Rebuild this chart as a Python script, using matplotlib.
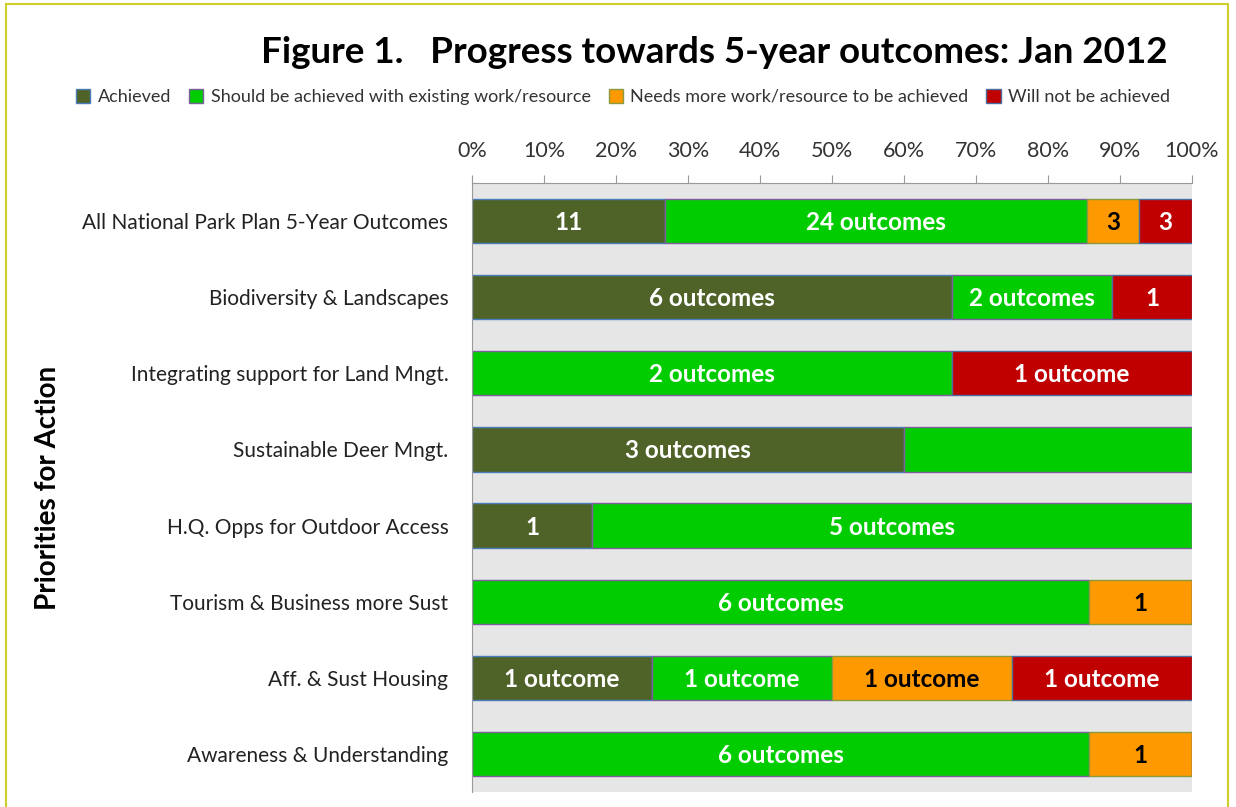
import matplotlib
matplotlib.use("Agg")
import matplotlib.pyplot as plt
from matplotlib.patches import Rectangle
import numpy as np

plt.rcParams["font.family"] = ["Lato", "DejaVu Sans"]

categories = [
    "All National Park Plan 5-Year Outcomes",
    "Biodiversity & Landscapes",
    "Integrating support for Land Mngt.",
    "Sustainable Deer Mngt.",
    "H.Q. Opps for Outdoor Access",
    "Tourism & Business more Sust",
    "Aff. & Sust Housing",
    "Awareness & Understanding",
]
series = [
    "Achieved",
    "Should be achieved with existing work/resource",
    "Needs more work/resource to be achieved",
    "Will not be achieved",
]
achieved = [11, 6, 0, 3, 1, 0, 1, 0]
should = [24, 2, 2, 2, 5, 6, 1, 6]
needs_more = [3, 0, 0, 0, 0, 1, 1, 1]
will_not = [3, 1, 1, 0, 0, 0, 1, 0]

labels_achieved = ["11", "6 outcomes", "", "3 outcomes", "1", "", "1 outcome", ""]
labels_should = ["24 outcomes", "2 outcomes", "2 outcomes", "", "5 outcomes",
                 "6 outcomes", "1 outcome", "6 outcomes"]
labels_needs = ["3", "", "", "", "", "1", "1 outcome", "1"]
labels_willnot = ["3", "1", "1 outcome", "", "", "", "1 outcome", ""]

colors = ["#4F6228", "#00CC00", "#FF9900", "#C00000"]
edges = ["#4A7EBB", "#7D5FA0", "#8A9A3C", "#4A6E9E"]
text_colors = ["white", "white", "black", "white"]

counts = np.array([achieved, should, needs_more, will_not], dtype=float)
totals = counts.sum(axis=0)
shares = counts / totals
all_labels = [labels_achieved, labels_should, labels_needs, labels_willnot]

fig = plt.figure(figsize=(12.36, 8.07), dpi=100)
ax = fig.add_axes([0.3819, 0.0186, 0.5825, 0.7546])
ax.set_facecolor("#E6E6E6")

y = np.arange(len(categories))
left = np.zeros(len(categories))
for i in range(4):
    bars = ax.barh(y, shares[i], left=left, height=0.58, color=colors[i],
                   edgecolor=edges[i], linewidth=1.0, label=series[i])
    for j, bar in enumerate(bars):
        if all_labels[i][j]:
            ax.text(left[j] + shares[i][j] / 2, y[j] + 0.02, all_labels[i][j],
                    ha="center", va="center", fontsize=17.5, fontweight="bold",
                    color=text_colors[i])
    left += shares[i]

ax.set_xlim(0, 1)
ax.set_ylim(len(categories) - 0.5, -0.5)
ax.xaxis.tick_top()
ax.set_xticks(np.linspace(0, 1, 11))
ax.set_xticklabels([f"{int(v)}%" for v in np.linspace(0, 100, 11)], fontsize=15.5,
                   color="#333333")
ax.tick_params(axis="x", direction="out", length=6, color="#999999", pad=10)
ax.set_yticks(y)
ax.set_yticklabels(categories, fontsize=15, color="#222222")
ax.tick_params(axis="y", length=0, pad=17)
for s in ["right", "bottom"]:
    ax.spines[s].set_visible(False)
for s in ["top", "left"]:
    ax.spines[s].set_color("#999999")

fig.text(0.039, 0.395, "Priorities for Action", rotation=90, ha="center",
         va="center", fontsize=20, fontweight="bold")
fig.text(0.578, 0.935, "Figure 1.   Progress towards 5-year outcomes: Jan 2012",
         ha="center", va="center", fontsize=26.5, fontweight="bold")

fig.legend(loc="center", bbox_to_anchor=(0.504, 0.880), ncol=4, frameon=False,
           fontsize=13, handlelength=0.8, handleheight=0.8, handletextpad=0.4,
           columnspacing=1.0, labelcolor="#333333")

fig.patches.append(Rectangle((6 / 1236, -0.05), 1222 / 1236, 1.05 - 4 / 807,
                             transform=fig.transFigure, fill=False,
                             edgecolor="#CFCF2A", linewidth=1.5))

fig.savefig("out.png", dpi=100)
